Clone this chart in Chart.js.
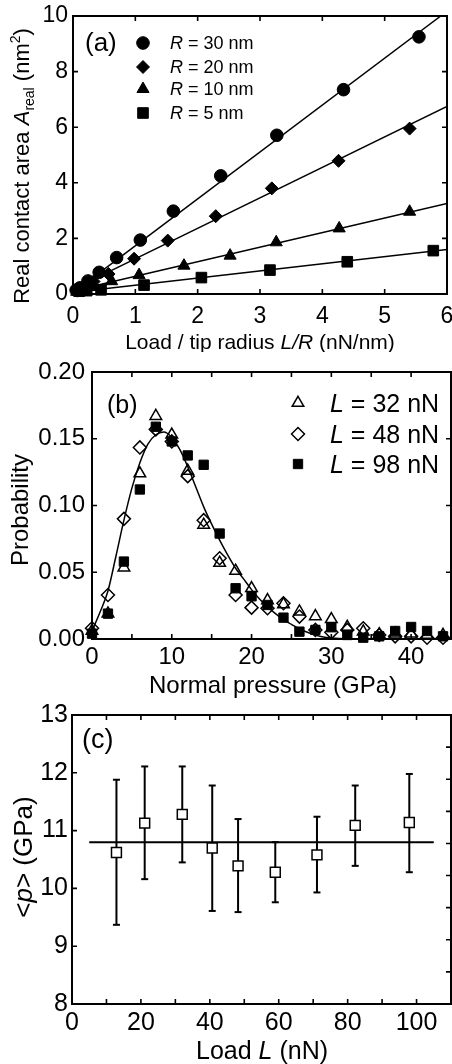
<!DOCTYPE html>
<html>
<head>
<meta charset="utf-8">
<script src="https://cdn.jsdelivr.net/npm/chart.js@4.4.0/dist/chart.umd.min.js"></script>
<style>
  html, body { margin: 0; padding: 0; background: #fff; }
  #wrap { position: relative; width: 452px; height: 1064px; }
  canvas { position: absolute; left: 0; display: block; }
</style>
</head>
<body>
<div id="wrap">
  <canvas id="cA" width="452" height="352" style="top:0"></canvas>
  <canvas id="cB" width="452" height="348" style="top:352px"></canvas>
  <canvas id="cC" width="452" height="364" style="top:700px"></canvas>
</div>
<script>
// ---- panel (a): real contact area vs L/R ----
const lr30 = [0.05, 0.11, 0.24, 0.42, 0.70, 1.08, 1.61, 2.37, 3.27, 4.34, 5.55];
const area30 = [0.14, 0.22, 0.47, 0.78, 1.31, 1.94, 2.98, 4.25, 5.71, 7.35, 9.25];
const lr20 = [0.07, 0.16, 0.33, 0.57, 0.98, 1.52, 2.29, 3.19, 4.26, 5.40];
const area20 = [0.12, 0.22, 0.45, 0.72, 1.27, 1.92, 2.80, 3.80, 4.79, 5.95];
const lr10 = [0.06, 0.14, 0.30, 0.62, 1.06, 1.78, 2.52, 3.26, 4.27, 5.40];
const area10 = [0.08, 0.14, 0.25, 0.46, 0.68, 1.02, 1.38, 1.86, 2.36, 2.96];
const lr5 = [0.10, 0.22, 0.45, 1.14, 2.06, 3.16, 4.40, 5.78];
const area5 = [0.10, 0.12, 0.15, 0.32, 0.59, 0.86, 1.16, 1.56];
const fitX30 = [0.3, 5.9], fitY30 = [0.55, 10];
const fitX20 = [0.3, 6], fitY20 = [0.5, 6.75];
const fitX10 = [0.35, 6], fitY10 = [0.3, 3.26];
const fitX5 = [0.4, 6], fitY5 = [0.16, 1.6];
const legendA = ['30', '20', '10', '5'];

// ---- panel (b): pressure distribution ----
const pressure = [0, 2, 4, 6, 8, 10, 12, 14, 16, 18, 20, 22, 24, 26, 28, 30, 32, 34, 36, 38, 40, 42, 44];
const prob32 = [0.006, 0.019, 0.0535, 0.124, 0.167, 0.153, 0.126, 0.0855, 0.057, 0.051, 0.038, 0.029, 0.026, 0.0205, 0.017, 0.0148, 0.009, 0.0055, 0.0035, 0.004, 0.004, 0.003, 0.003];
const prob48 = [0.008, 0.033, 0.090, 0.1435, 0.157, 0.148, 0.122, 0.089, 0.0605, 0.033, 0.0235, 0.023, 0.0268, 0.0168, 0.0068, 0.005, 0.0068, 0.008, 0.003, 0.002, 0.002, 0.001, 0.001];
const prob98 = [0.004, 0.019, 0.058, 0.112, 0.159, 0.148, 0.1375, 0.1305, 0.079, 0.038, 0.032, 0.0255, 0.016, 0.0055, 0.0068, 0.0088, 0.003, 0.001, 0.002, 0.006, 0.009, 0.006, 0.002];
const curveX = [0, 1, 2, 3, 4, 5, 6, 7, 8, 9, 10, 11, 12, 13, 14, 15, 16, 17, 18, 19, 20, 21, 22, 23, 24, 25, 26, 27, 28, 29, 30, 32, 36, 45];
const curveY = [0.006, 0.02, 0.036, 0.062, 0.089, 0.113, 0.132, 0.146, 0.153, 0.155, 0.151, 0.142, 0.129, 0.114, 0.099, 0.086, 0.074, 0.063, 0.053, 0.045, 0.037, 0.030, 0.024, 0.019, 0.0145, 0.011, 0.0075, 0.005, 0.003, 0.0015, 0.0008, 0.0002, 0, 0];
const legendB = ['32', '48', '98'];

// ---- panel (c): mean pressure vs load ----
const loadL = [12.9, 21.1, 32.0, 40.7, 48.2, 59.0, 71.1, 82.2, 97.9];
const meanP = [10.62, 11.13, 11.28, 10.70, 10.39, 10.28, 10.58, 11.09, 11.14];
const errHi = [11.88, 12.11, 12.11, 11.78, 11.20, 10.80, 11.24, 11.78, 11.98];
const errLo = [9.37, 10.16, 10.45, 9.61, 9.59, 9.76, 9.93, 10.39, 10.28];
const avgX = [5, 105], avgY = [10.8, 10.8];

const FONT = '"Liberation Sans", Arial, Helvetica, sans-serif';
Chart.defaults.font.family = FONT;
Chart.defaults.color = '#000';

const pts = (xs, ys) => xs.map((x, i) => ({ x, y: ys[i] }));

function xAxis(min, max, step, size, h, pad) {
  return {
    type: 'linear', position: 'bottom', min, max,
    grid: { display: false, drawTicks: false }, border: { display: false },
    ticks: { stepSize: step, includeBounds: false, autoSkip: false, maxRotation: 0, padding: pad, color: '#000', font: { size } },
    afterFit(s) { s.height = h; s.paddingLeft = 0; s.paddingRight = 0; }
  };
}
function yAxis(min, max, step, size, w, pad, fmt) {
  return {
    type: 'linear', min, max,
    grid: { display: false, drawTicks: false }, border: { display: false },
    ticks: { stepSize: step, includeBounds: false, autoSkip: false, padding: pad, color: '#000', font: { size },
      callback: fmt || (v => v) },
    afterFit(s) { s.width = w; s.paddingTop = 0; s.paddingBottom = 0; }
  };
}

// frame + inward ticks on all four sides
const frameTicks = {
  id: 'frameTicks',
  afterDraw(chart, args, o) {
    const { ctx, chartArea: a, scales } = chart;
    const L = o.len || 5;
    ctx.save();
    ctx.strokeStyle = '#000';
    ctx.lineWidth = 1.6;
    ctx.beginPath();
    o.xTicks.forEach(v => {
      const px = scales.x.getPixelForValue(v);
      ctx.moveTo(px, a.bottom); ctx.lineTo(px, a.bottom - L);
      ctx.moveTo(px, a.top); ctx.lineTo(px, a.top + L);
    });
    o.yTicks.forEach(v => {
      const py = scales.y.getPixelForValue(v);
      ctx.moveTo(a.left, py); ctx.lineTo(a.left + L, py);
    });
    (o.yRight || o.yTicks).forEach(v => {
      const py = scales.y.getPixelForValue(v);
      ctx.moveTo(a.right, py); ctx.lineTo(a.right - L, py);
    });
    ctx.stroke();
    ctx.lineWidth = 2;
    ctx.strokeRect(a.left, a.top, a.right - a.left, a.bottom - a.top);
    ctx.restore();
  }
};

function drawRuns(ctx, runs, x, y, size, align) {
  const font = r => (r.it ? 'italic ' : '') + ((r.sub || r.sup) ? Math.round(size * 0.62) : size) + 'px ' + FONT;
  let total = 0;
  runs.forEach(r => { ctx.font = font(r); r.w = ctx.measureText(r.t).width; total += r.w; });
  let cx = align === 'center' ? x - total / 2 : align === 'right' ? x - total : x;
  const base = y + size * 0.36;
  ctx.textAlign = 'left'; ctx.textBaseline = 'alphabetic';
  runs.forEach(r => {
    ctx.font = font(r);
    const dy = r.sub ? size * 0.22 : r.sup ? -size * 0.42 : 0;
    ctx.fillText(r.t, cx, base + dy);
    cx += r.w;
  });
}

function drawSymbol(ctx, s, x, y) {
  ctx.save();
  ctx.fillStyle = s.fill; ctx.strokeStyle = '#000'; ctx.lineWidth = s.bw;
  if (Chart.helpers && Chart.helpers.drawPoint) {
    Chart.helpers.drawPoint(ctx, { pointStyle: s.style, radius: s.r, borderWidth: s.bw, rotation: 0 }, x, y);
  } else {
    ctx.beginPath(); ctx.arc(x, y, s.r, 0, Math.PI * 2); ctx.fill(); ctx.stroke();
  }
  ctx.restore();
}

// text labels, axis titles and legends
const annot = {
  id: 'annot',
  afterDraw(chart, args, o) {
    const ctx = chart.ctx;
    ctx.save();
    ctx.fillStyle = '#000';
    o.items.forEach(it => {
      if (it.sym) { drawSymbol(ctx, it.sym, it.x, it.y); return; }
      if (it.rot) {
        ctx.save(); ctx.translate(it.x, it.y); ctx.rotate(-Math.PI / 2);
        drawRuns(ctx, it.runs, 0, 0, it.size, 'center');
        ctx.restore();
      } else {
        drawRuns(ctx, it.runs, it.x, it.y, it.size, it.align || 'left');
      }
    });
    ctx.restore();
  }
};

const baseOpts = { responsive: false, animation: false, events: [] };
const fitLine = (xs, ys) => ({ data: pts(xs, ys), showLine: true, pointRadius: 0, borderColor: '#000', borderWidth: 1.5 });
const filled = (xs, ys, style, r) => ({ data: pts(xs, ys), pointStyle: style, pointRadius: r, pointBackgroundColor: '#000', pointBorderColor: '#000', pointBorderWidth: 1, clip: 10 });

// ---- chart (a) ----
const symA = [
  { style: 'circle', r: 6.3, fill: '#000', bw: 1 },
  { style: 'rectRot', r: 6.5, fill: '#000', bw: 1 },
  { style: 'triangle', r: 7, fill: '#000', bw: 1 },
  { style: 'rect', r: 7.5, fill: '#000', bw: 1 }
];
const itemsA = [
  { runs: [{ t: '(a)' }], x: 85, y: 42, size: 26 },
  { runs: [{ t: 'Load / tip radius ' }, { t: 'L/R', it: true }, { t: ' (nN/nm)' }], x: 260, y: 341, size: 21, align: 'center' },
  { runs: [{ t: 'Real contact area ' }, { t: 'A', it: true }, { t: 'real', sub: true }, { t: ' (nm' }, { t: '2', sup: true }, { t: ')' }], x: 21, y: 166, size: 22, rot: true }
];
[43, 67, 89, 113].forEach((y, i) => {
  itemsA.push({ sym: symA[i], x: 143, y });
  itemsA.push({ runs: [{ t: 'R', it: true }, { t: ' = ' + legendA[i] + ' nm' }], x: 170, y, size: 18 });
});

new Chart(document.getElementById('cA'), {
  type: 'scatter',
  data: { datasets: [
    filled(lr30, area30, 'circle', 6.3),
    filled(lr20, area20, 'rectRot', 6.5),
    filled(lr10, area10, 'triangle', 7),
    filled(lr5, area5, 'rect', 7.5),
    fitLine(fitX30, fitY30), fitLine(fitX20, fitY20), fitLine(fitX10, fitY10), fitLine(fitX5, fitY5)
  ] },
  options: Object.assign({}, baseOpts, {
    layout: { autoPadding: false, padding: { top: 16, right: 5, left: 0, bottom: 0 } },
    scales: { x: xAxis(0, 6, 1, 23, 58, 9), y: yAxis(0, 10, 2, 23, 73, 5) },
    plugins: { legend: { display: false }, tooltip: { enabled: false },
      frameTicks: { xTicks: [1, 2, 3, 4, 5], yTicks: [2, 4, 6, 8], len: 5 },
      annot: { items: itemsA } }
  }),
  plugins: [frameTicks, annot]
});

// ---- chart (b) ----
const symB = [
  { style: 'triangle', r: 6.7, fill: 'rgba(0,0,0,0)', bw: 1.5 },
  { style: 'rectRot', r: 6.5, fill: 'rgba(0,0,0,0)', bw: 1.5 },
  { style: 'rect', r: 6.6, fill: '#000', bw: 1 }
];
const itemsB = [
  { runs: [{ t: '(b)' }], x: 107, y: 52, size: 25 },
  { runs: [{ t: 'Normal pressure (GPa)' }], x: 273, y: 332, size: 24, align: 'center' },
  { runs: [{ t: 'Probability' }], x: 19, y: 158, size: 24, rot: true }
];
[51, 82, 112].forEach((y, i) => {
  itemsB.push({ sym: symB[i], x: 298, y });
  itemsB.push({ runs: [{ t: 'L', it: true }, { t: ' = ' + legendB[i] + ' nN' }], x: 330, y, size: 25 });
});
const openPt = (ys, style, r) => ({ data: pts(pressure, ys), pointStyle: style, pointRadius: r, pointBackgroundColor: 'rgba(0,0,0,0)', pointBorderColor: '#000', pointBorderWidth: 1.5, clip: 10 });

new Chart(document.getElementById('cB'), {
  type: 'scatter',
  data: { datasets: [
    openPt(prob32, 'triangle', 6.7),
    openPt(prob48, 'rectRot', 6.5),
    { data: pts(pressure, prob98), pointStyle: 'rect', pointRadius: 6.6, pointBackgroundColor: '#000', pointBorderColor: '#000', pointBorderWidth: 1, clip: 10 },
    { data: pts(curveX, curveY), showLine: true, pointRadius: 0, borderColor: '#000', borderWidth: 1.5, cubicInterpolationMode: 'monotone' }
  ] },
  options: Object.assign({}, baseOpts, {
    layout: { autoPadding: false, padding: { top: 20, right: 1, left: 0, bottom: 0 } },
    scales: { x: xAxis(0, 45, 10, 24, 61, 4), y: yAxis(0, 0.2, 0.05, 24, 92, 7, v => v.toFixed(2)) },
    plugins: { legend: { display: false }, tooltip: { enabled: false },
      frameTicks: { xTicks: [5, 10, 15, 20, 25, 30, 35, 40], yTicks: [0.05, 0.10, 0.15], len: 5 },
      annot: { items: itemsB } }
  }),
  plugins: [frameTicks, annot]
});

// ---- chart (c) ----
const itemsC = [
  { runs: [{ t: '(c)' }], x: 82, y: 38, size: 27 },
  { runs: [{ t: 'Load ' }, { t: 'L', it: true }, { t: ' (nN)' }], x: 262, y: 350, size: 25, align: 'center' },
  { runs: [{ t: '<' }, { t: 'p', it: true }, { t: '> (GPa)' }], x: 23, y: 157, size: 26, rot: true }
];
const errData = loadL.flatMap((x, i) => [{ x, y: errLo[i] }, { x, y: errHi[i] }, { x, y: null }]);

new Chart(document.getElementById('cC'), {
  type: 'scatter',
  data: { datasets: [
    { data: pts(loadL, meanP), pointStyle: 'rect', pointRadius: 7, pointBackgroundColor: '#fff', pointBorderColor: '#000', pointBorderWidth: 1.5 },
    { data: errData, showLine: true, spanGaps: false, borderColor: '#000', borderWidth: 2, pointStyle: 'line', pointRadius: 3.5, pointBorderColor: '#000', pointBorderWidth: 2 },
    { data: pts(avgX, avgY), showLine: true, pointRadius: 0, borderColor: '#000', borderWidth: 2 }
  ] },
  options: Object.assign({}, baseOpts, {
    layout: { autoPadding: false, padding: { top: 15, right: 1, left: 0, bottom: 0 } },
    scales: { x: xAxis(0, 110, 20, 25, 60, 4), y: yAxis(8, 13, 1, 25, 72, 4) },
    plugins: { legend: { display: false }, tooltip: { enabled: false },
      frameTicks: { xTicks: [10, 20, 30, 40, 50, 60, 70, 80, 90, 100], yTicks: [9, 10, 11, 12],
        yRight: [1, 2, 3, 4, 5, 6, 7, 8].map(k => 8 + k * 5 / 9), len: 5 },
      annot: { items: itemsC } }
  }),
  plugins: [frameTicks, annot]
});
</script>
</body>
</html>
